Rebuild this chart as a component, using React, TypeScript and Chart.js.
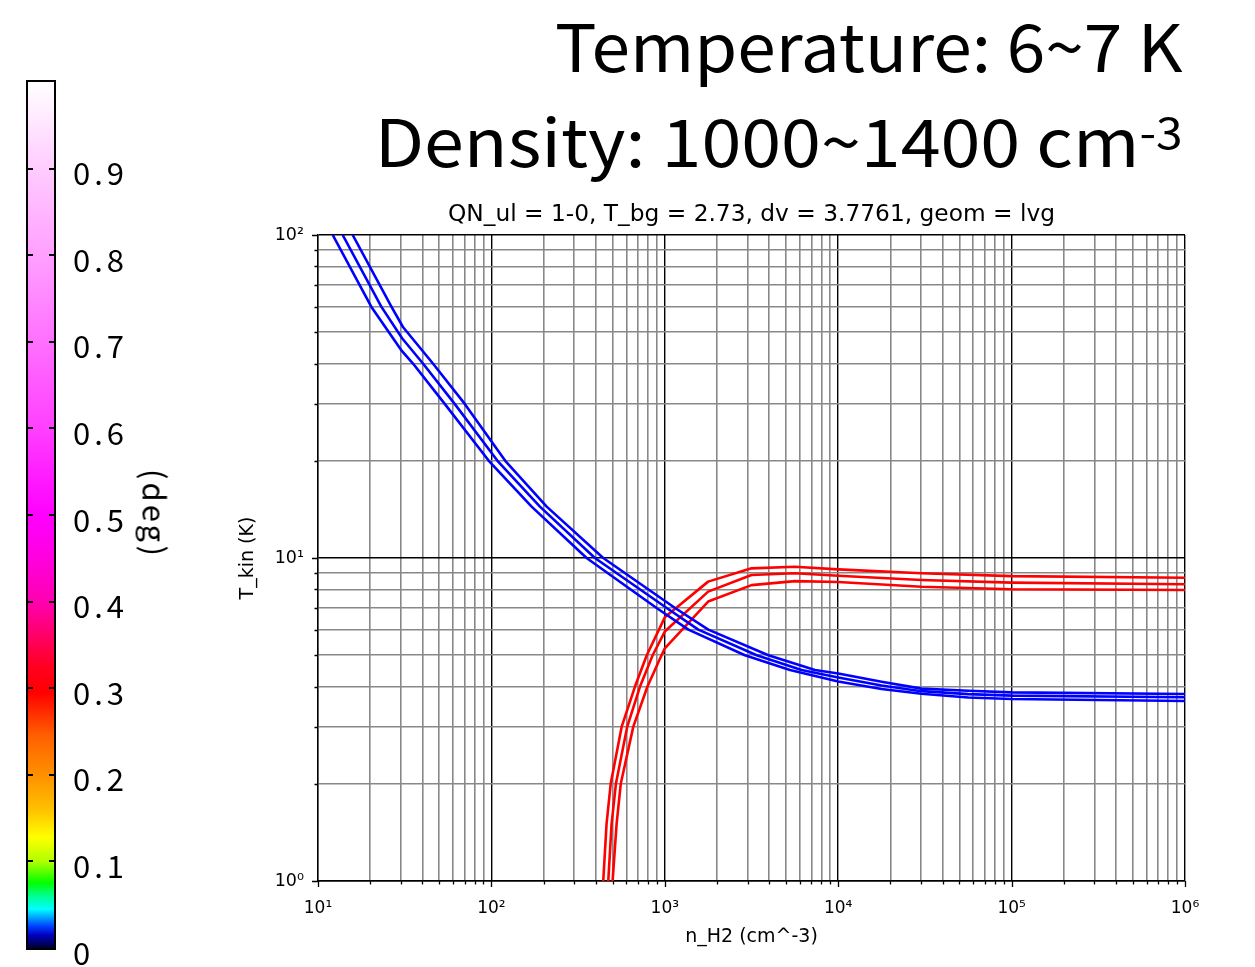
import React, { useEffect, useRef } from 'react';
import { Chart, registerables } from 'chart.js';

Chart.register(...registerables);

// ---------- data (n_H2 in cm^-3, T_kin in K) ----------
const BLUE_LO_N = [12.16, 20.28, 30.1, 35.3, 53.8, 96.6, 170.6, 354, 897, 1368, 2897, 5272, 10000, 17783, 30200, 56234, 100000, 1000000];
const BLUE_LO_T = [100, 60, 44.1, 40, 30, 20, 14.42, 10, 7, 6, 5, 4.5, 4.146, 3.93, 3.8, 3.7, 3.661, 3.609];

const BLUE_MID_N = [13.88, 23.17, 30.55, 40.3, 61.4, 108.4, 190.5, 395.4, 1026, 1560, 3388, 6152, 10000, 17783, 30200, 56234, 100000, 1000000];
const BLUE_MID_T = [100, 60, 47.9, 40, 30, 20, 14.42, 10, 7, 6, 5, 4.5, 4.266, 4.03, 3.87, 3.79, 3.748, 3.705];

const BLUE_UP_N = [15.85, 26.5, 30.9, 46.0, 70.2, 120.2, 208.4, 441.6, 1146, 1782, 3954, 7345, 10000, 17783, 30200, 56234, 100000, 1000000];
const BLUE_UP_T = [100, 60, 51.9, 40, 30, 20, 14.42, 10, 7, 6, 5, 4.5, 4.389, 4.14, 3.94, 3.88, 3.837, 3.793];

const RED_A_N = [441.6, 461.3, 487.5, 563.6, 673, 787, 1000, 1778, 3162, 5623, 10000, 30200, 100000, 1000000];
const RED_A_T = [1, 1.5, 2, 3, 4, 5, 6.55, 8.45, 9.29, 9.4, 9.22, 8.97, 8.79, 8.69];

const RED_B_N = [472.1, 493.2, 522.4, 606.7, 719.5, 851.1, 1000, 1778, 3162, 5623, 10000, 30200, 100000, 1000000];
const RED_B_T = [1, 1.5, 2, 3, 4, 5, 5.92, 7.87, 8.86, 8.97, 8.81, 8.55, 8.39, 8.29];

const RED_C_N = [500, 527.2, 557.2, 657.7, 794.3, 933.3, 1000, 1778, 3162, 5623, 10000, 30200, 100000, 1000000];
const RED_C_T = [1, 1.5, 2, 3, 4, 4.85, 5.25, 7.33, 8.24, 8.48, 8.43, 8.15, 8.0, 7.96];

// ---------- axes ----------
const X_MAJOR = [10, 100, 1000, 10000, 100000, 1000000];
const X_MAJOR_LABELS = ['10¹', '10²', '10³', '10⁴', '10⁵', '10⁶'];
const Y_MAJOR = [1, 10, 100];
const Y_MAJOR_LABELS = ['10⁰', '10¹', '10²'];
const MINOR_MULTS = [2, 3, 4, 5, 6, 7, 8, 9];

const PLOT_TITLE = 'QN_ul = 1-0, T_bg = 2.73, dv = 3.7761, geom = lvg';
const X_TITLE = 'n_H2 (cm^-3)';
const Y_TITLE = 'T_kin (K)';

// ---------- colorbar ----------
const CB_VALUES = [0, 0.1, 0.2, 0.3, 0.4, 0.5, 0.6, 0.7, 0.8, 0.9];
const CB_LABELS = ['0', '0.1', '0.2', '0.3', '0.4', '0.5', '0.6', '0.7', '0.8', '0.9'];
const CB_UNIT = '(deg)';

const HEADER_1 = 'Temperature: 6~7 K';
const HEADER_2 = 'Density: 1000~1400 cm';
const HEADER_2_SUP = '-3';

const W = 1255;
const H = 967;

function isMajor(v: number) {
  const l = Math.log10(v);
  return Math.abs(l - Math.round(l)) < 1e-9;
}

function buildTicks(majors: number[]) {
  const ticks: { value: number; major: boolean }[] = [];
  for (let i = 0; i < majors.length; i++) {
    ticks.push({ value: majors[i], major: true });
    if (i < majors.length - 1) {
      for (const m of MINOR_MULTS) ticks.push({ value: majors[i] * m, major: false });
    }
  }
  return ticks;
}

function pts(n: number[], t: number[]) {
  return n.map((x, i) => ({ x, y: t[i] }));
}

const tickMarks = {
  id: 'tickMarks',
  afterDraw(chart: any) {
    const { ctx, chartArea, scales } = chart;
    ctx.save();
    ctx.strokeStyle = '#000';
    ctx.lineWidth = 1.3;
    ctx.beginPath();
    for (const t of scales.x.ticks) {
      const px = Math.round(scales.x.getPixelForValue(t.value)) + 0.5;
      const len = isMajor(t.value) ? 6 : 3.5;
      ctx.moveTo(px, chartArea.bottom);
      ctx.lineTo(px, chartArea.bottom + len);
    }
    for (const t of scales.y.ticks) {
      const py = Math.round(scales.y.getPixelForValue(t.value)) + 0.5;
      const len = isMajor(t.value) ? 6 : 3.5;
      ctx.moveTo(chartArea.left, py);
      ctx.lineTo(chartArea.left - len, py);
    }
    ctx.stroke();
    ctx.restore();
  },
};

export default function App() {
  const ref = useRef<HTMLCanvasElement>(null);

  useEffect(() => {
    const lineDs = (label: string, data: any, color: string) => ({
      label,
      data,
      borderColor: color,
      backgroundColor: color,
      borderWidth: 2.6,
      pointRadius: 0,
      tension: 0,
      fill: false,
      borderJoinStyle: 'round' as const,
    });
    const chart = new Chart(ref.current as HTMLCanvasElement, {
      type: 'line',
      data: {
        datasets: [
          lineDs('blue lo', pts(BLUE_LO_N, BLUE_LO_T), '#0000ff'),
          lineDs('blue mid', pts(BLUE_MID_N, BLUE_MID_T), '#0000ff'),
          lineDs('blue up', pts(BLUE_UP_N, BLUE_UP_T), '#0000ff'),
          lineDs('red a', pts(RED_A_N, RED_A_T), '#ff0000'),
          lineDs('red b', pts(RED_B_N, RED_B_T), '#ff0000'),
          lineDs('red c', pts(RED_C_N, RED_C_T), '#ff0000'),
        ],
      },
      options: {
        responsive: false,
        devicePixelRatio: 1,
        animation: false,
        events: [],
        layout: { padding: { left: 0, right: 70, top: 0, bottom: 0 } },
        plugins: {
          legend: { display: false },
          tooltip: { enabled: false },
          title: {
            display: true,
            text: PLOT_TITLE,
            fullSize: false,
            color: '#000',
            font: { family: 'DejaVu Sans', size: 23.3, weight: 'normal' },
            padding: { top: 201, bottom: 6.04 },
          },
        },
        scales: {
          x: {
            type: 'logarithmic',
            min: 10,
            max: 1000000,
            afterBuildTicks: (s: any) => {
              s.ticks = buildTicks(X_MAJOR);
            },
            afterFit: (s: any) => {
              s.height = 86;
            },
            ticks: {
              autoSkip: false,
              maxRotation: 0,
              minRotation: 0,
              padding: 17.5,
              color: '#000',
              font: { family: 'DejaVu Sans', size: 17 },
              callback: (v: any) => {
                const i = X_MAJOR.findIndex((m) => Math.abs(m - Number(v)) < 1e-6 * m);
                return i >= 0 ? X_MAJOR_LABELS[i] : '';
              },
            },
            grid: {
              drawTicks: false,
              color: (c: any) => (c.tick && isMajor(c.tick.value) ? '#000000' : '#888888'),
              lineWidth: (c: any) => (c.tick && isMajor(c.tick.value) ? 1.4 : 1.6),
            },
            border: { display: true, color: '#000', width: 1.4 },
            title: {
              display: true,
              text: X_TITLE,
              color: '#000',
              font: { family: 'DejaVu Sans', size: 19 },
              padding: { top: 0, bottom: 18.6 },
            },
          },
          y: {
            type: 'logarithmic',
            min: 1,
            max: 100,
            afterBuildTicks: (s: any) => {
              s.ticks = buildTicks(Y_MAJOR);
            },
            afterFit: (s: any) => {
              s.width = 318;
            },
            ticks: {
              autoSkip: false,
              padding: 14,
              color: '#000',
              font: { family: 'DejaVu Sans', size: 17.5 },
              callback: (v: any) => {
                const i = Y_MAJOR.findIndex((m) => Math.abs(m - Number(v)) < 1e-6 * m);
                return i >= 0 ? Y_MAJOR_LABELS[i] : '';
              },
            },
            grid: {
              drawTicks: false,
              color: (c: any) => (c.tick && isMajor(c.tick.value) ? '#000000' : '#888888'),
              lineWidth: (c: any) => (c.tick && isMajor(c.tick.value) ? 1.4 : 1.6),
            },
            border: { display: true, color: '#000', width: 1.4 },
            title: {
              display: true,
              text: Y_TITLE,
              color: '#000',
              font: { family: 'DejaVu Sans', size: 19 },
              padding: { top: 236.6, bottom: 0 },
            },
          },
        },
      } as any,
      plugins: [tickMarks],
    });
    return () => chart.destroy();
  }, []);

  const cbTop = 82;
  const cbBottom = 948;
  const cbY = (v: number) => cbBottom - v * (cbBottom - cbTop);
  const gradient =
    'linear-gradient(to top, #000030 0%, #0000c0 1.5%, #0040ff 2.5%, #00a0ff 3.5%, #00ffff 4.5%, #00ff90 6%, #00ff00 7.5%, #b0ff00 10%, #ffff00 12.8%, #ffc000 16%, #ff9000 20%, #ff6000 24.5%, #ff0000 29.5%, #ff0020 32.5%, #ff0070 36.5%, #ff00b0 40%, #ff00e0 45%, #ff00ff 50%, #ff40ff 60%, #ff70ff 70%, #ffa0ff 80%, #ffccff 90%, #ffffff 100%)';
  const jp = "'Noto Sans CJK JP', 'Noto Sans', sans-serif";

  const headerStyle: React.CSSProperties = {
    position: 'absolute',
    right: 72,
    fontFamily: jp,
    fontSize: 66,
    lineHeight: '66px',
    whiteSpace: 'nowrap',
    color: '#000',
    transformOrigin: 'right center',
  };

  return (
    <div style={{ position: 'fixed', left: 0, top: 0, width: W, height: H, background: '#fff', overflow: 'hidden' }}>
      <canvas ref={ref} width={W} height={H} style={{ position: 'absolute', left: 0, top: 0, width: W, height: H }} />

      <div style={{ ...headerStyle, top: 10, transform: 'scaleX(1.052)' }}>{HEADER_1}</div>
      <div style={{ ...headerStyle, top: 105, transform: 'scaleX(1.088)' }}>
        {HEADER_2}
        <span style={{ fontSize: 44, position: 'relative', top: -18 }}>{HEADER_2_SUP}</span>
      </div>

      <div
        style={{
          position: 'absolute',
          left: 26,
          top: cbTop - 2,
          width: 26,
          height: cbBottom - cbTop,
          border: '2px solid #000',
          background: gradient,
        }}
      />
      {CB_VALUES.map((v, i) =>
        i === 0 ? null : (
          <React.Fragment key={'t' + i}>
            <div style={{ position: 'absolute', left: 28, top: cbY(v) - 1, width: 5, height: 2, background: '#000' }} />
            <div style={{ position: 'absolute', left: 49, top: cbY(v) - 1, width: 5, height: 2, background: '#000' }} />
          </React.Fragment>
        )
      )}
      {CB_VALUES.map((v, i) => (
        <div
          key={'l' + i}
          style={{
            position: 'absolute',
            left: 73,
            top: cbY(v) + 5 - 17.5 + (i === 0 ? 0 : 0),
            fontFamily: jp,
            fontSize: 31,
            lineHeight: '31px',
            letterSpacing: 4,
            color: '#000',
            whiteSpace: 'nowrap',
          }}
        >
          {CB_LABELS[i]}
        </div>
      ))}
      <div style={{ position: 'absolute', left: 156, top: 514, width: 0, height: 0 }}>
        <div
          style={{
            position: 'absolute',
            left: 0,
            top: 0,
            transform: 'translate(-50%, -50%) rotate(90deg)',
            fontFamily: jp,
            fontSize: 31,
            lineHeight: '31px',
            letterSpacing: 3,
            whiteSpace: 'nowrap',
            color: '#000',
          }}
        >
          {CB_UNIT}
        </div>
      </div>
    </div>
  );
}
